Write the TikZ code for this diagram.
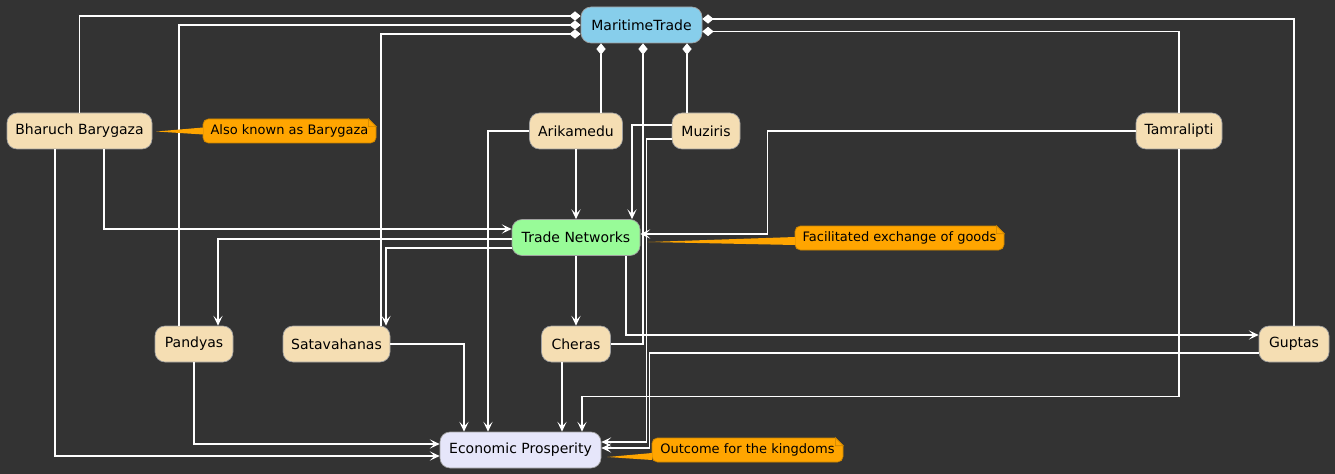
\documentclass[tikz,border=0pt]{standalone}
\usepackage{fontspec}
\setmainfont{DejaVu Sans}
\usetikzlibrary{arrows.meta, calc, positioning}
\definecolor{bgdark}{HTML}{333333}
\definecolor{kingdomfill}{HTML}{F5DEB3}
\definecolor{tradefill}{HTML}{87CEEB}
\definecolor{netfill}{HTML}{98FB98}
\definecolor{prospfill}{HTML}{E6E6FA}
\definecolor{notefill}{HTML}{FFA500}
\definecolor{notedraw}{HTML}{C98300}
\definecolor{boxdraw}{HTML}{A0A0A0}
\tikzstyle{kingdom} = [rectangle, rounded corners=7.5pt, minimum height=27pt, inner xsep=0pt, text centered, draw=boxdraw, line width=0.5pt, fill=kingdomfill, text=black, font=\fontsize{10.5}{12}\selectfont]
\tikzstyle{hub} = [kingdom, fill=tradefill]
\tikzstyle{network} = [kingdom, fill=netfill]
\tikzstyle{outcome} = [kingdom, fill=prospfill]
\tikzstyle{note} = [rectangle, rounded corners=4pt, minimum height=18pt, inner xsep=0pt, text centered, draw=notedraw, line width=0.5pt, fill=notefill, text=black, font=\fontsize{9.75}{11}\selectfont]
\tikzstyle{tail} = [fill=notefill]
\tikzstyle{fold} = [fill=notefill, draw=notedraw, line width=0.5pt]
\tikzstyle{arrow} = [white, line width=1.1pt, -{Stealth[length=7.5pt, width=7pt, inset=3.5pt]}]
\tikzstyle{part} = [white, line width=1.1pt, -{Diamond[length=8.5pt, width=7pt]}]

\begin{document}
\begin{tikzpicture}[x=0.75pt, y=-0.75pt]
		\fill[bgdark] (0,0) rectangle (1335,474);
		\node (maritime) [hub, minimum width=90.75pt] at (641.5,25) {MaritimeTrade};
		\node (bharuch) [kingdom, minimum width=108.75pt] at (79.5,131) {Bharuch Barygaza};
		\node (arikamedu) [kingdom, minimum width=69.75pt] at (576,131) {Arikamedu};
		\node (muziris) [kingdom, minimum width=51pt] at (706,131) {Muziris};
		\node (tamralipti) [kingdom, minimum width=64.5pt] at (1179,131) {Tamralipti};
		\node (networks) [network, minimum width=96pt] at (576,237.5) {Trade Networks};
		\node (pandyas) [kingdom, minimum width=58.5pt] at (194,344) {Pandyas};
		\node (satavahanas) [kingdom, minimum width=80.25pt] at (336.5,344) {Satavahanas};
		\node (cheras) [kingdom, minimum width=51.75pt] at (576,344) {Cheras};
		\node (guptas) [kingdom, minimum width=52.5pt] at (1294,344) {Guptas};
		\node (prosperity) [outcome, minimum width=120.75pt] at (520.5,450) {Economic Prosperity};

		\draw [part] (bharuch.north) |- ($(maritime.west)+(0,-9)$);
		\draw [part] ($(pandyas.north)+(-15,0)$) |- (maritime.west);
		\draw [part] ($(satavahanas.north)+(44.5,0)$) |- ($(maritime.west)+(0,9)$);
		\draw [part] ($(arikamedu.north)+(25,0)$) -- ($(maritime.south)+(-40.5,0)$);
		\draw [part] (cheras.east) -| ($(maritime.south)+(1.5,0)$);
		\draw [part] ($(muziris.north)+(-19,0)$) -- ($(maritime.south)+(45.5,0)$);
		\draw [part] (guptas.north) |- ($(maritime.east)+(0,-6)$);
		\draw [part] (tamralipti.north) |- ($(maritime.east)+(0,6.5)$);

		\draw [arrow] ($(bharuch.south)+(24.5,0)$) |- ($(networks.west)+(0,-8.5)$);
		\draw [arrow] ($(bharuch.south)+(-24.5,0)$) |- ($(prosperity.west)+(0,6)$);
		\draw [arrow] (arikamedu.south) -- (arikamedu.south |- networks.north);
		\draw [arrow] (arikamedu.west) -| ($(prosperity.north)+(-32.5,0)$);
		\draw [arrow] ($(muziris.west)+(0,-6)$) -| ($(networks.north)+(56,0)$);
		\draw [arrow] ($(muziris.west)+(0,8)$) -| ($(prosperity.east)+(45,-8)$) -- ($(prosperity.east)+(0,-8)$);
		\draw [arrow] (tamralipti.west) -| ($(networks.east)+(127,-3.5)$) -- ($(networks.east)+(0,-3.5)$);
		\draw [arrow] (tamralipti.south) |- ($(prosperity.north)+(61.5,-35)$) -- ($(prosperity.north)+(61.5,0)$);
		\draw [arrow] ($(networks.west)+(0,1.5)$) -| ($(pandyas.north)+(24,0)$);
		\draw [arrow] ($(networks.west)+(0,10.5)$) -| ($(satavahanas.north)+(49.5,0)$);
		\draw [arrow] (networks.south) -- (networks.south |- cheras.north);
		\draw [arrow] ($(networks.south)+(50,0)$) |- ($(guptas.west)+(0,-9)$);
		\draw [arrow] (pandyas.south) |- ($(prosperity.west)+(0,-6)$);
		\draw [arrow] (satavahanas.east) -| ($(prosperity.north)+(-56.5,0)$);
		\draw [arrow] ($(cheras.south)+(-14,0)$) -- ($(prosperity.north)+(41.5,0)$);
		\draw [arrow] ($(guptas.west)+(0,9)$) -| ($(prosperity.east)+(48,-2)$) -- ($(prosperity.east)+(0,-2)$);

		\node (alsoNote) [note, minimum width=129.75pt] at (289.5,131) {Also known as Barygaza};
		\fill [tail] ($(bharuch.east)+(4,0.5)$) -- ($(alsoNote.west)+(0.5,-3.5)$) -- ($(alsoNote.west)+(0.5,3.5)$) -- cycle;
		\fill [bgdark] ($(alsoNote.north east)+(-8,-0.5)$) -- ($(alsoNote.north east)+(0.5,-0.5)$) -- ($(alsoNote.north east)+(0.5,8)$) -- cycle;
		\draw [fold] ($(alsoNote.north east)+(-8,0)$) -- ($(alsoNote.north east)+(-8,8)$) -- ($(alsoNote.north east)+(0,8)$) -- cycle;

		\node (goodsNote) [note, minimum width=156.75pt] at (899.5,238) {Facilitated exchange of goods};
		\fill [tail] ($(networks.east)+(8,4.5)$) -- ($(goodsNote.west)+(0.5,-1)$) -- ($(goodsNote.west)+(0.5,7)$) -- cycle;
		\fill [bgdark] ($(goodsNote.north east)+(-8,-0.5)$) -- ($(goodsNote.north east)+(0.5,-0.5)$) -- ($(goodsNote.north east)+(0.5,8)$) -- cycle;
		\draw [fold] ($(goodsNote.north east)+(-8,0)$) -- ($(goodsNote.north east)+(-8,8)$) -- ($(goodsNote.north east)+(0,8)$) -- cycle;

		\node (kingdomNote) [note, minimum width=143.25pt] at (747.5,450) {Outcome for the kingdoms};
		\fill [tail] ($(prosperity.east)+(6,7)$) -- ($(kingdomNote.west)+(0.5,3)$) -- ($(kingdomNote.west)+(0.5,10)$) -- cycle;
		\fill [bgdark] ($(kingdomNote.north east)+(-8,-0.5)$) -- ($(kingdomNote.north east)+(0.5,-0.5)$) -- ($(kingdomNote.north east)+(0.5,8)$) -- cycle;
		\draw [fold] ($(kingdomNote.north east)+(-8,0)$) -- ($(kingdomNote.north east)+(-8,8)$) -- ($(kingdomNote.north east)+(0,8)$) -- cycle;
\end{tikzpicture}
\end{document}
